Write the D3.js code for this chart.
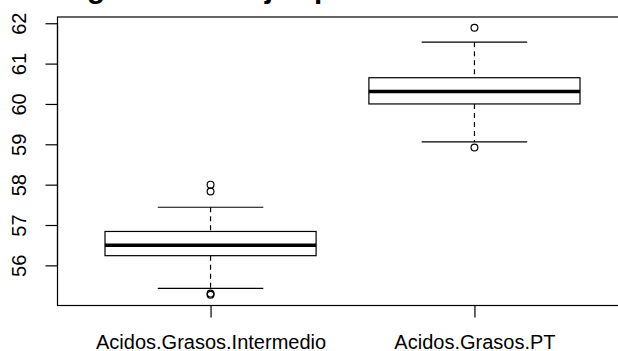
<!DOCTYPE html>
<html>
<head>
<meta charset="utf-8">
<script src="https://cdn.jsdelivr.net/npm/d3@7"></script>
<style>
  html, body { margin: 0; padding: 0; background: #fff; overflow: hidden; }
  svg { display: block; font-family: "Liberation Sans", Arial, sans-serif; }
</style>
</head>
<body>
<div id="chart"></div>
<script>
// groups and their boxplot statistics
const categories = ['Acidos.Grasos.Intermedio', 'Acidos.Grasos.PT'];
const lowerWhisker = [55.43, 59.06];
const q1 = [56.24, 60.0];
const median = [56.50, 60.31];
const q3 = [56.84, 60.65];
const upperWhisker = [57.44, 61.53];
const outliers = [
  [55.27, 55.30, 57.83, 58.00],
  [58.92, 61.89]
];
const yTicks = [56, 57, 58, 59, 60, 61, 62];
const title = 'Diagrama de Cajas por Ácidos Grasos';

const width = 618, height = 351;
const margin = {top: 17, right: -9.5, bottom: 45.5, left: 57.5};

const svg = d3.select('#chart').append('svg')
    .attr('width', width)
    .attr('height', height);

// R style: 4% extension of the data range
const allVals = lowerWhisker.concat(upperWhisker, outliers.flat());
const [lo, hi] = d3.extent(allVals);
const ext = (hi - lo) * 0.04;

const x = d3.scaleLinear()
    .domain([0.5 - 0.08, categories.length + 0.5 + 0.08])
    .range([margin.left, width - margin.right]);

const y = d3.scaleLinear()
    .domain([lo - ext, hi + ext])
    .range([height - margin.bottom, margin.top]);

// title (mostly outside the view, only descenders visible)
svg.append('text')
    .attr('x', 41)
    .attr('y', -2.5)
    .attr('font-size', 29.6)
    .attr('font-weight', 'bold')
    .attr('fill', '#000')
    .text(title);

// plot frame
svg.append('rect')
    .attr('x', x.range()[0])
    .attr('y', y.range()[1])
    .attr('width', x.range()[1] - x.range()[0])
    .attr('height', y.range()[0] - y.range()[1])
    .attr('fill', 'none')
    .attr('stroke', '#000')
    .attr('stroke-width', 1.2);

// y axis
const yAxis = svg.append('g')
    .attr('transform', `translate(${margin.left},0)`)
    .call(d3.axisLeft(y).tickValues(yTicks).tickSize(12).tickSizeOuter(0).tickFormat(d3.format('d')));
yAxis.select('.domain')
    .attr('d', `M0,${y(yTicks[0])}V${y(yTicks[yTicks.length - 1])}`)
    .attr('stroke-width', 1.2);
yAxis.selectAll('.tick line').attr('stroke-width', 1.2);
yAxis.selectAll('.tick text')
    .attr('font-size', 20)
    .attr('font-family', '"Liberation Sans", Arial, sans-serif')
    .attr('fill', '#000')
    .attr('text-anchor', 'middle')
    .attr('x', null)
    .attr('dy', null)
    .attr('transform', 'translate(-32,0) rotate(-90)');

// x axis
const xAxis = svg.append('g')
    .attr('transform', `translate(0,${height - margin.bottom})`)
    .call(d3.axisBottom(x).tickValues(categories.map((d, i) => i + 1))
        .tickSize(12).tickSizeOuter(0).tickFormat((d, i) => categories[i]));
xAxis.select('.domain')
    .attr('d', `M${x(1)},0H${x(categories.length)}`)
    .attr('stroke-width', 1.2);
xAxis.selectAll('.tick line').attr('stroke-width', 1.2);
xAxis.selectAll('.tick text')
    .attr('font-size', 20)
    .attr('font-family', '"Liberation Sans", Arial, sans-serif')
    .attr('fill', '#000')
    .attr('y', 43)
    .attr('dy', null);

// boxes
const boxW = 0.8, stapleW = 0.4;
const groups = svg.selectAll('g.box')
    .data(categories)
    .join('g')
    .attr('class', 'box');

groups.append('line')
    .attr('x1', (d, i) => x(i + 1)).attr('x2', (d, i) => x(i + 1))
    .attr('y1', (d, i) => y(upperWhisker[i])).attr('y2', (d, i) => y(q3[i]))
    .attr('stroke', '#000').attr('stroke-width', 1.2).attr('stroke-dasharray', '5,4');
groups.append('line')
    .attr('x1', (d, i) => x(i + 1)).attr('x2', (d, i) => x(i + 1))
    .attr('y1', (d, i) => y(q1[i])).attr('y2', (d, i) => y(lowerWhisker[i]))
    .attr('stroke', '#000').attr('stroke-width', 1.2).attr('stroke-dasharray', '5,4');

[upperWhisker, lowerWhisker].forEach(w => {
  groups.append('line')
      .attr('x1', (d, i) => x(i + 1 - stapleW / 2)).attr('x2', (d, i) => x(i + 1 + stapleW / 2))
      .attr('y1', (d, i) => y(w[i])).attr('y2', (d, i) => y(w[i]))
      .attr('stroke', '#000').attr('stroke-width', 1.2);
});

groups.append('rect')
    .attr('x', (d, i) => x(i + 1 - boxW / 2))
    .attr('width', x(1 + boxW / 2) - x(1 - boxW / 2))
    .attr('y', (d, i) => y(q3[i]))
    .attr('height', (d, i) => y(q1[i]) - y(q3[i]))
    .attr('fill', '#fff')
    .attr('stroke', '#000')
    .attr('stroke-width', 1.2);

groups.append('line')
    .attr('x1', (d, i) => x(i + 1 - boxW / 2)).attr('x2', (d, i) => x(i + 1 + boxW / 2))
    .attr('y1', (d, i) => y(median[i])).attr('y2', (d, i) => y(median[i]))
    .attr('stroke', '#000').attr('stroke-width', 3.6);

groups.each(function (d, i) {
  d3.select(this).selectAll('circle')
      .data(outliers[i])
      .join('circle')
      .attr('cx', x(i + 1))
      .attr('cy', v => y(v))
      .attr('r', 3.4)
      .attr('fill', 'none')
      .attr('stroke', '#000')
      .attr('stroke-width', 1.2);
});
</script>
</body>
</html>
